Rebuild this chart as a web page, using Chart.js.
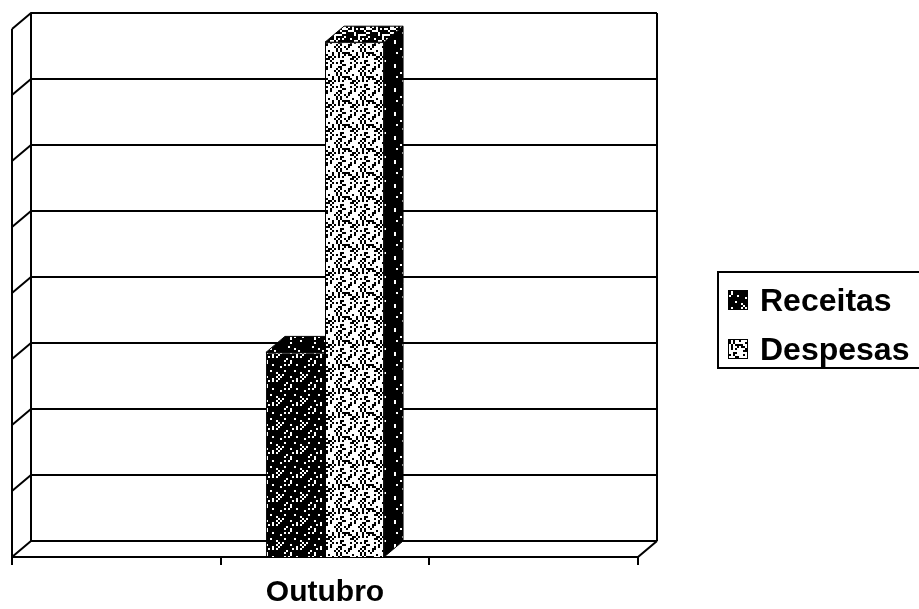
<!DOCTYPE html>
<html>
<head>
<meta charset="utf-8">
<script src="https://cdn.jsdelivr.net/npm/chart.js@4.4.1/dist/chart.umd.min.js"></script>
<style>
  html, body { margin: 0; padding: 0; background: #fff; overflow: hidden; }
  #wrap { position: relative; width: 919px; height: 609px; }
  #legend {
    position: absolute; left: 717px; top: 271px; width: 240px; height: 98px;
    border: 2px solid #000; box-sizing: border-box;
    font-family: "Liberation Sans", Arial, sans-serif; font-weight: bold; font-size: 32px; color: #000;
  }
  .item { position: absolute; left: 9px; height: 38px; display: flex; align-items: center; }
  .sw { width: 20px; height: 20px; border: 1px solid #000; box-sizing: border-box; margin-right: 12px; }
</style>
</head>
<body>
<div id="wrap">
  <canvas id="c"></canvas>
  <div id="legend"></div>
</div>
<script>
// ---- data ----
const categories = ['', 'Outubro', ''];
const seriesNames = ['Receitas', 'Despesas'];
const receitas = [null, 3.1, null];
const despesas = [null, 7.8, null];
const yTicks = { min: 0, max: 8, step: 1 };

// ---- textures (deterministic stipple) ----
function hash(i, j, s) {
  let h = (i * 374761393 + j * 668265263 + s * 982451653) | 0;
  h = Math.imul(h ^ (h >>> 13), 1274126177);
  h = h ^ (h >>> 16);
  return (h >>> 0) / 4294967296;
}
function makeTile(bg, fg, density, seed) {
  const c = document.createElement('canvas');
  const cells = 12, px = 2;
  c.width = c.height = cells * px;
  const g = c.getContext('2d');
  g.fillStyle = bg; g.fillRect(0, 0, c.width, c.height);
  g.fillStyle = fg;
  for (let i = 0; i < cells; i++) for (let j = 0; j < cells; j++) {
    if (hash(i, j, seed) < density) g.fillRect(i * px, j * px, px, px);
  }
  return c;
}
const ctxTmp = document.createElement('canvas').getContext('2d');
const tiles = {
  recFront: makeTile('#000', '#fff', 0.15, 3),
  desFront: makeTile('#fff', '#000', 0.28, 7),
  side: makeTile('#000', '#fff', 0.07, 11),
  desTop: makeTile('#000', '#fff', 0.30, 5),
  recTop: makeTile('#000', '#fff', 0.08, 13)
};
const pat = k => ctxTmp.createPattern(tiles[k], 'repeat');
const fronts = [pat('recFront'), pat('desFront')];
const tops = [pat('recTop'), pat('desTop')];
const sidePat = pat('side');

const DX = 19, DY = -16;

const box3d = {
  id: 'box3d',
  beforeDatasetsDraw(chart) {
    const { ctx, chartArea: a, scales: { x, y } } = chart;
    ctx.save();
    ctx.strokeStyle = '#000';
    ctx.lineWidth = 2;
    const seg = (x1, y1, x2, y2) => { ctx.beginPath(); ctx.moveTo(x1, y1); ctx.lineTo(x2, y2); ctx.stroke(); };
    // back wall gridlines + left wall diagonals
    y.ticks.forEach(t => {
      const py = y.getPixelForValue(t.value);
      ctx.beginPath();
      ctx.moveTo(a.left, py);
      ctx.lineTo(a.left + DX, py + DY);
      ctx.lineTo(a.right + DX, py + DY);
      ctx.stroke();
    });
    seg(a.left, a.top, a.left, a.bottom);
    seg(a.left + DX, a.top + DY, a.left + DX, a.bottom + DY);
    seg(a.right + DX, a.top + DY, a.right + DX, a.bottom + DY);
    seg(a.right, a.bottom, a.right + DX, a.bottom + DY);
    // bar depth faces
    ctx.lineWidth = 1;
    chart.data.datasets.forEach((ds, i) => {
      const meta = chart.getDatasetMeta(i);
      meta.data.forEach((bar, j) => {
        if (ds.data[j] == null) return;
        const p = bar.getProps(['x', 'y', 'base', 'width'], true);
        const l = p.x - p.width / 2, r = p.x + p.width / 2;
        const poly = (pts, fill) => {
          ctx.beginPath();
          ctx.moveTo(pts[0][0], pts[0][1]);
          pts.slice(1).forEach(q => ctx.lineTo(q[0], q[1]));
          ctx.closePath();
          ctx.fillStyle = fill; ctx.fill(); ctx.stroke();
        };
        poly([[r, p.y], [r + DX, p.y + DY], [r + DX, p.base + DY], [r, p.base]], sidePat);
        poly([[l, p.y], [r, p.y], [r + DX, p.y + DY], [l + DX, p.y + DY]], tops[i]);
      });
    });
    ctx.restore();
  }
};

Chart.defaults.font.family = '"Liberation Sans", Arial, sans-serif';
Chart.defaults.color = '#000';

const chart = new Chart(document.getElementById('c'), {
  type: 'bar',
  data: {
    labels: categories,
    datasets: [
      { label: seriesNames[0], data: receitas, backgroundColor: fronts[0], borderColor: '#000', borderWidth: 1 },
      { label: seriesNames[1], data: despesas, backgroundColor: fronts[1], borderColor: '#000', borderWidth: 1 }
    ]
  },
  options: {
    responsive: true,
    maintainAspectRatio: false,
    animation: false,
    layout: { padding: { left: 12, right: 281, top: 29, bottom: 0 } },
    plugins: { legend: { display: false }, tooltip: { enabled: false } },
    datasets: { bar: { categoryPercentage: 0.566, barPercentage: 1.0 } },
    scales: {
      x: {
        grid: { display: true, drawOnChartArea: false, drawTicks: true, tickLength: 8, color: '#000', lineWidth: 2 },
        border: { display: true, color: '#000', width: 2 },
        ticks: { font: { size: 30, weight: 'bold' }, padding: 10, color: '#000' },
        afterFit(s) { s.height = 52; }
      },
      y: {
        display: false,
        min: yTicks.min, max: yTicks.max,
        ticks: { stepSize: yTicks.step }
      }
    }
  },
  plugins: [box3d]
});

// HTML legend built from the chart's datasets
const leg = document.getElementById('legend');
const swTiles = [tiles.recFront, tiles.desFront];
chart.data.datasets.forEach((ds, i) => {
  const it = document.createElement('div');
  it.className = 'item';
  it.style.top = (i === 0 ? 8 : 57) + 'px';
  const sw = document.createElement('span');
  sw.className = 'sw';
  sw.style.backgroundImage = 'url(' + swTiles[i].toDataURL() + ')';
  const tx = document.createElement('span');
  tx.textContent = ds.label;
  it.appendChild(sw); it.appendChild(tx);
  leg.appendChild(it);
});
</script>
</body>
</html>
